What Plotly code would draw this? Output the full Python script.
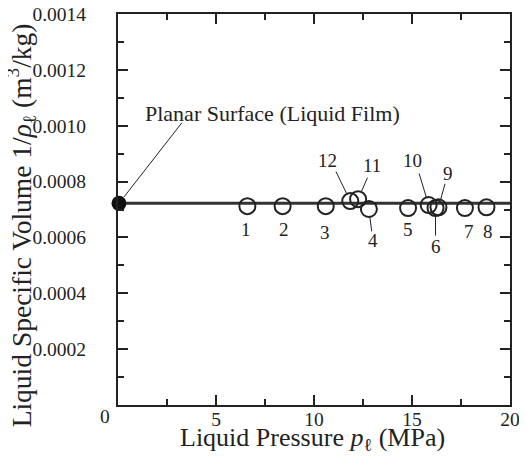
import plotly.graph_objects as go

# ---- data ----
point_ids = ["1", "2", "3", "4", "5", "6", "7", "8", "9", "10", "11", "12"]
pressure_mpa = [6.6, 8.4, 10.6, 12.8, 14.8, 16.2, 17.7, 18.8, 16.35, 15.85, 12.25, 11.85]
specific_volume = [0.000712, 0.000712, 0.000712, 0.000702, 0.000705, 0.000705,
                   0.000705, 0.000708, 0.000708, 0.000716, 0.000737, 0.000730]

planar_pressure = [0.05]
planar_volume = [0.000722]
planar_label = "Planar Surface (Liquid Film)"

line_pressure = [0.0, 20.0]
line_volume = [0.000722, 0.000722]

x_tickvals = [0, 5, 10, 15, 20]
x_ticktext = ["", "5", "10", "15", "20"]
y_tickvals = [0.0002, 0.0004, 0.0006, 0.0008, 0.0010, 0.0012, 0.0014]
y_ticktext = ["0.0002", "0.0004", "0.0006", "0.0008", "0.0010", "0.0012", "0.0014"]

x_title = "Liquid Pressure <i>p</i><sub>ℓ</sub> (MPa)"
y_title = "Liquid Specific Volume 1/<i>ρ</i><sub>ℓ</sub> (m<sup>3</sup>/kg)"

# ---- label placement (pixel offsets: text shift, leader tail) ----
label_shift = {
    "1": (-1, -23), "2": (1, -23), "3": (-1, -26), "4": (4, -32),
    "5": (0, -21), "6": (0, -38), "7": (4, -23), "8": (2, -24),
    "9": (10, 34), "10": (-16, 45), "11": (14, 34), "12": (-23, 41),
}
leader_tail = {
    "4": (3, 24), "6": (0, 29), "9": (7, -25), "10": (-10, -33),
    "11": (10, -23), "12": (-15, -31),
}

INK = "#222222"
FONT = "Liberation Serif"

fig = go.Figure()

fig.add_trace(go.Scatter(x=line_pressure, y=line_volume, mode="lines",
                         line=dict(color="#333333", width=3), showlegend=False,
                         hoverinfo="skip"))
fig.add_trace(go.Scatter(x=pressure_mpa, y=specific_volume, mode="markers",
                         marker=dict(symbol="circle-open", size=16, color=INK,
                                     line=dict(width=2, color=INK)),
                         showlegend=False, cliponaxis=False))
fig.add_trace(go.Scatter(x=planar_pressure, y=planar_volume, mode="markers",
                         marker=dict(symbol="circle", size=15, color="#111111"),
                         showlegend=False, cliponaxis=False))

annotations = []
for pid, px, py in zip(point_ids, pressure_mpa, specific_volume):
    dx, dy = label_shift[pid]
    annotations.append(dict(x=px, y=py, xref="x", yref="y", text=pid,
                            showarrow=False, xshift=dx, yshift=dy,
                            font=dict(family=FONT, size=19, color=INK)))
    if pid in leader_tail:
        tx, ty = leader_tail[pid]
        annotations.append(dict(x=px, y=py, xref="x", yref="y", text="",
                                showarrow=True, arrowhead=0, arrowwidth=1,
                                arrowcolor=INK, ax=tx, ay=ty, standoff=7))

annotations.append(dict(x=planar_pressure[0], y=planar_volume[0], xref="x", yref="y",
                        text=planar_label, showarrow=False, xanchor="left",
                        xshift=24, yshift=90,
                        font=dict(family=FONT, size=22, color=INK)))
annotations.append(dict(x=planar_pressure[0], y=planar_volume[0], xref="x", yref="y",
                        text="", showarrow=True, arrowhead=0, arrowwidth=1,
                        arrowcolor=INK, ax=64, ay=-82, standoff=8))
annotations.append(dict(x=0, y=0, xref="x", yref="y", text="0", showarrow=False,
                        xshift=-13, yshift=-11,
                        font=dict(family=FONT, size=19.5, color=INK)))
# axis titles
annotations.append(dict(x=0.497, y=-0.088, xref="paper", yref="paper", text=x_title,
                        showarrow=False, xanchor="center", yanchor="middle",
                        borderpad=0,
                        font=dict(family=FONT, size=26, color=INK)))
annotations.append(dict(x=-0.247, y=0.46, xref="paper", yref="paper", text=y_title,
                        showarrow=False, xanchor="center", yanchor="middle",
                        textangle=-90, borderpad=0,
                        font=dict(family=FONT, size=27.5, color=INK)))

axis_common = dict(showline=True, linecolor=INK, linewidth=2, mirror="ticks",
                   ticks="inside", ticklen=10, tickwidth=1.8, tickcolor=INK,
                   showgrid=False, zeroline=False, automargin=False,
                   ticklabeloverflow="allow",
                   tickfont=dict(family=FONT, size=19.5, color=INK))

# The page body has an 8px default margin, so the figure is sized to fit inside it.
fig.update_layout(
    width=511, height=445,
    margin=dict(l=110, r=9, t=6, b=48),
    paper_bgcolor="white", plot_bgcolor="white",
    xaxis=dict(range=[0, 20], tickvals=x_tickvals, ticktext=x_ticktext,
               minor=dict(dtick=2.5, ticks="inside", ticklen=6, tickwidth=1.8,
                          tickcolor=INK),
               ticklabelstandoff=-4,
               **axis_common),
    yaxis=dict(range=[0, 0.0014], tickvals=y_tickvals, ticktext=y_ticktext,
               minor=dict(dtick=0.0001, ticks="inside", ticklen=6, tickwidth=1.8,
                          tickcolor=INK),
               ticklabelstandoff=26,
               **axis_common),
    annotations=annotations,
)

fig.write_html("out.html")
